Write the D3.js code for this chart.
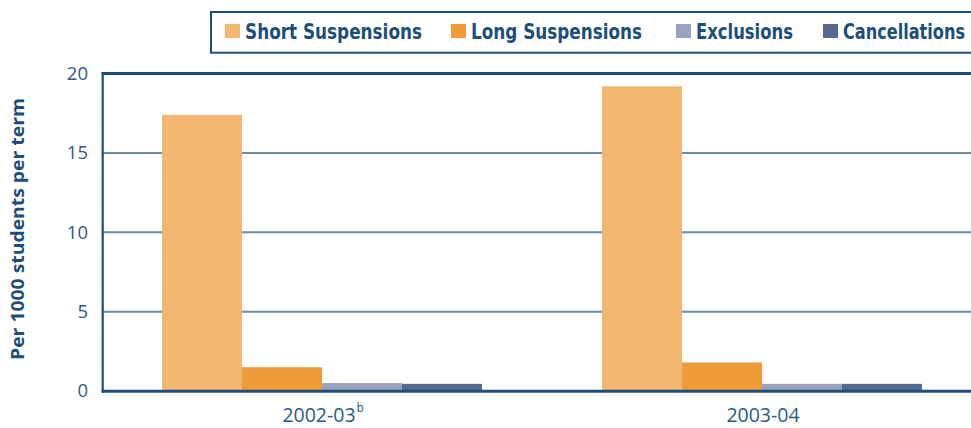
<!DOCTYPE html>
<html>
<head>
<meta charset="utf-8">
<script src="https://cdn.jsdelivr.net/npm/d3@7"></script>
<style>
  html, body { margin: 0; padding: 0; background: #fff; }
  svg { display: block; }
</style>
</head>
<body>
<svg id="chart" width="971" height="428"></svg>
<script>
// ---- data ----
const categories = ["2002-03", "2003-04"];
const categorySuperscripts = ["b", ""];
const seriesNames = ["Short Suspensions", "Long Suspensions", "Exclusions", "Cancellations"];
const shortSuspensions = [17.4, 19.2];
const longSuspensions = [1.5, 1.8];
const exclusions = [0.5, 0.45];
const cancellations = [0.45, 0.45];
const yTicks = [0, 5, 10, 15, 20];
const yTitle = "Per 1000 students per term";

const seriesValues = [shortSuspensions, longSuspensions, exclusions, cancellations];
const colors = ["#f2b670", "#ee9c3a", "#9aa3bd", "#566a8f"];

const svg = d3.select("#chart");
const dark = "#1c4e79";
const textCol = "#2b5b84";

const left = 102.7, right = 982;
const y = d3.scaleLinear().domain([0, 20]).range([391, 73.6]);
const x0 = d3.scaleBand().domain(categories).range([left - 0.7, right])
  .paddingInner(120 / 440).paddingOuter(60 / 440);
const x1 = d3.scaleBand().domain(seriesNames).range([0, x0.bandwidth()]).padding(0);

// gridlines
svg.append("g").selectAll("line").data(yTicks.filter(t => t > 0 && t < 20)).join("line")
  .attr("x1", left).attr("x2", 971)
  .attr("y1", d => y(d)).attr("y2", d => y(d))
  .attr("stroke", "#6d8ca6").attr("stroke-width", 2);

// bars
const groups = svg.append("g").selectAll("g").data(categories).join("g")
  .attr("transform", d => `translate(${x0(d)},0)`);
groups.selectAll("rect")
  .data((c, ci) => seriesNames.map((s, si) => ({ s, si, v: seriesValues[si][ci] })))
  .join("rect")
  .attr("x", d => x1(d.s))
  .attr("width", x1.bandwidth())
  .attr("y", d => y(d.v))
  .attr("height", d => y(0) - y(d.v))
  .attr("fill", d => colors[d.si]);

// axes frame lines
svg.append("line").attr("x1", left - 1).attr("x2", 971)
  .attr("y1", y(20)).attr("y2", y(20))
  .attr("stroke", dark).attr("stroke-width", 3);
svg.append("line").attr("x1", left - 1).attr("x2", 971)
  .attr("y1", y(0) + 0.2).attr("y2", y(0) + 0.2)
  .attr("stroke", dark).attr("stroke-width", 3);
svg.append("line").attr("x1", left).attr("x2", left)
  .attr("y1", y(20) - 1.5).attr("y2", y(0) + 1.7)
  .attr("stroke", dark).attr("stroke-width", 2.2);

// y axis labels via d3 axis
const yAxis = d3.axisLeft(y).tickValues(yTicks).tickSize(0).tickPadding(0);
const yg = svg.append("g").attr("transform", "translate(88,0)").call(yAxis);
yg.select(".domain").remove();
yg.selectAll("text")
  .attr("font-family", "'Open Sans', sans-serif")
  .attr("font-size", 18.5)
  .attr("fill", textCol)
  .attr("dy", "0.32em");

// y title
svg.append("text")
  .attr("transform", `translate(24,229) rotate(-90)`)
  .attr("text-anchor", "middle")
  .attr("font-family", "'Open Sans', sans-serif")
  .attr("font-weight", "bold")
  .attr("font-size", 18.5)
  .attr("fill", dark)
  .attr("textLength", 262)
  .attr("lengthAdjust", "spacingAndGlyphs")
  .text(yTitle);

// x labels
categories.forEach((c, i) => {
  const cx = x0(c) + x0.bandwidth() / 2;
  const sup = categorySuperscripts[i];
  const t = svg.append("text")
    .attr("x", cx - (sup ? 4 : 0) + 1)
    .attr("y", 422)
    .attr("text-anchor", "middle")
    .attr("font-family", "'Open Sans', sans-serif")
    .attr("font-size", 19.5)
    .attr("fill", textCol)
    .text(c);
  if (sup) {
    const bb = t.node().getBBox();
    svg.append("text")
      .attr("x", bb.x + bb.width + 1)
      .attr("y", 412)
      .attr("font-family", "'Open Sans', sans-serif")
      .attr("font-size", 12)
      .attr("fill", textCol)
      .text(sup);
  }
});

// legend
const legend = svg.append("g");
legend.append("rect")
  .attr("x", 211).attr("y", 12)
  .attr("width", 800).attr("height", 40.7)
  .attr("fill", "#fff").attr("stroke", dark).attr("stroke-width", 2);
const legendSwatchX = [225, 451, 676, 823];
const legendTextW = [177, 171, 97, 122];
seriesNames.forEach((s, i) => {
  legend.append("rect")
    .attr("x", legendSwatchX[i]).attr("y", 24)
    .attr("width", 15).attr("height", 14)
    .attr("fill", colors[i]);
  legend.append("text")
    .attr("x", legendSwatchX[i] + 20)
    .attr("y", 38.5)
    .attr("font-family", "'Liberation Sans Narrow', 'DejaVu Sans Condensed', 'DejaVu Sans', sans-serif")
    .attr("font-weight", "bold")
    .attr("font-size", 21)
    .attr("fill", dark)
    .attr("textLength", legendTextW[i])
    .attr("lengthAdjust", "spacingAndGlyphs")
    .text(s);
});
</script>
</body>
</html>
